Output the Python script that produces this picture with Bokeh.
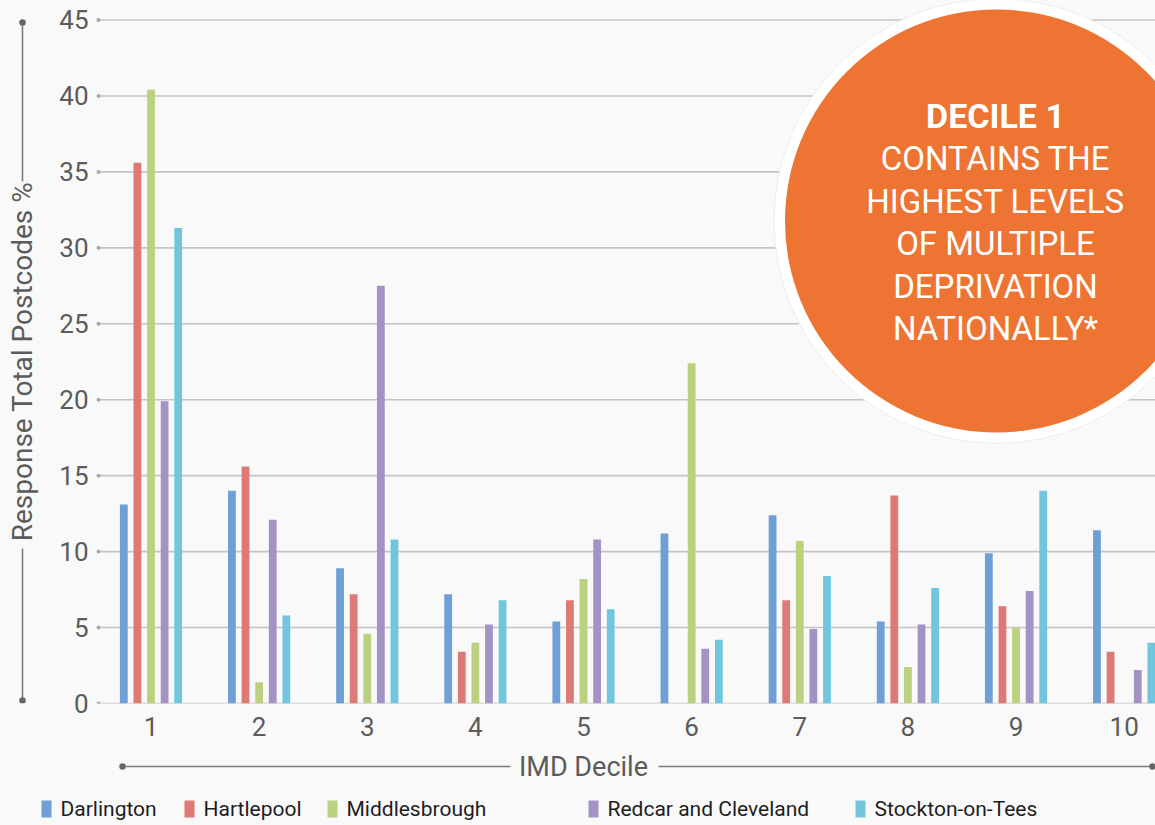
import numpy as np
from bokeh.plotting import figure
from bokeh.layouts import column, row
from bokeh.models import Range1d, FixedTicker, Label
from bokeh.core.properties import value
from bokeh.embed import file_html
from bokeh.resources import INLINE

# Share of responding postcodes (%) in each IMD decile, by local authority
deciles = [1, 2, 3, 4, 5, 6, 7, 8, 9, 10]
darlington = [13.1, 14.0, 8.9, 7.2, 5.4, 11.2, 12.4, 5.4, 9.9, 11.4]
hartlepool = [35.6, 15.6, 7.2, 3.4, 6.8, 0.0, 6.8, 13.7, 6.4, 3.4]
middlesbrough = [40.4, 1.4, 4.6, 4.0, 8.2, 22.4, 10.7, 2.4, 5.0, 0.0]
redcar = [19.9, 12.1, 27.5, 5.2, 10.8, 3.6, 4.9, 5.2, 7.4, 2.2]
stockton = [31.3, 5.8, 10.8, 6.8, 6.2, 4.2, 8.4, 7.6, 14.0, 4.0]

series_names = ["Darlington", "Hartlepool", "Middlesbrough",
                "Redcar and Cleveland", "Stockton-on-Tees"]
series_values = [darlington, hartlepool, middlesbrough, redcar, stockton]
series_colors = ["#6f9fd4", "#dd7a75", "#bbd17f", "#a592c4", "#71c6de"]

y_ticks = [0, 5, 10, 15, 20, 25, 30, 35, 40, 45]

callout_lines = ["CONTAINS THE", "HIGHEST LEVELS", "OF MULTIPLE",
                 "DEPRIVATION", "NATIONALLY*"]

y_title = "Response Total Postcodes %"
x_title = "IMD Decile"

# ---- page geometry (pixels) ----
W, H = 1155, 825
LEFT_W = 40           # strip holding the vertical axis title
TOP_H = 745           # height of the chart row
FRAME_L = 94          # left edge of plotting frame on the page
PX_PER_CAT = 108.13   # horizontal distance between decile groups
CAT1_PX = 150.5       # centre of first decile group
ZERO_PX = 703         # y pixel of value 0
PX_PER_UNIT = 15.189  # pixels per percentage point

X_START = 1 - (CAT1_PX - FRAME_L) / PX_PER_CAT
X_END = X_START + (W - FRAME_L) / PX_PER_CAT
Y_END = ZERO_PX / PX_PER_UNIT


def X(px):
    return X_START + (px - FRAME_L) / PX_PER_CAT


def Y(py):
    return (ZERO_PX - py) / PX_PER_UNIT


BG = "#f9f9f9"
AXIS_GREY = "#5b5b5b"
RULE_GREY = "#7c7c7c"
DOT_GREY = "#666666"
FONT = "Roboto"


def blank(width, height, xr, yr, **borders):
    f = figure(width=width, height=height, x_range=xr, y_range=yr,
               output_backend="svg", toolbar_location=None,
               x_axis_type=None, y_axis_type=None,
               min_border=0, background_fill_color=BG,
               border_fill_color=BG, outline_line_color=None, **borders)
    f.grid.visible = False
    return f


# ---------------- main chart ----------------
p = figure(width=W - LEFT_W, height=TOP_H,
           x_range=Range1d(X_START, X_END), y_range=Range1d(0, Y_END),
           output_backend="svg", toolbar_location=None,
           min_border_left=FRAME_L - LEFT_W, min_border_right=0,
           min_border_top=0, min_border_bottom=TOP_H - ZERO_PX,
           background_fill_color=BG, border_fill_color=BG,
           outline_line_color=None)
p.grid.visible = False

# horizontal rules with a small dot at their left end
x_rule0 = X(98)
p.segment(x0=[x_rule0] * len(y_ticks), y0=y_ticks,
          x1=[X_END] * len(y_ticks), y1=y_ticks,
          line_color="#c4c4c4", line_width=1.6)
p.scatter(x=[x_rule0] * len(y_ticks), y=y_ticks, size=4,
          fill_color="#a8a8a8", line_color=None)

# callout disc
cx, cy = X(996), Y(220.5)
p.scatter(x=[cx], y=[cy], size=445, fill_color="white",
          line_color="#ececec", line_width=1)
p.scatter(x=[cx], y=[cy], size=423, fill_color="#ee7433", line_color=None)

# grouped bars
step = 13.6 / PX_PER_CAT
bar_w = 7.8 / PX_PER_CAT
for i, (vals, col) in enumerate(zip(series_values, series_colors)):
    xs = np.array(deciles) + (i - 2) * step
    p.vbar(x=xs, top=vals, width=bar_w, bottom=0,
           fill_color=col, line_color=None)

# axes
p.yaxis.ticker = FixedTicker(ticks=y_ticks)
p.xaxis.ticker = FixedTicker(ticks=deciles)
for ax in (p.xaxis, p.yaxis):
    ax.axis_line_color = None
    ax.major_tick_line_color = None
    ax.minor_tick_line_color = None
    ax.major_label_text_font = FONT
    ax.major_label_text_font_size = "26px"
    ax.major_label_text_color = AXIS_GREY
p.yaxis.major_label_standoff = 0
p.xaxis.major_label_standoff = 7

# callout text
p.add_layout(Label(x=X(995), y=Y(115), text="DECILE 1",
                   text_font=FONT, text_font_style="bold",
                   text_font_size="34px", text_color="white",
                   text_align="center", text_baseline="middle"))
for k, line in enumerate(callout_lines):
    p.add_layout(Label(x=X(995), y=Y(158 + 42.6 * k), text=line,
                       text_font=FONT, text_font_size="33px",
                       text_color="white",
                       text_align="center", text_baseline="middle"))

# ---------------- vertical axis title strip ----------------
# pixel coordinates, y measured downwards from the top of the page;
# its frame spans the same height as the chart frame
left = blank(LEFT_W, TOP_H, Range1d(0, LEFT_W), Range1d(ZERO_PX, 0),
             min_border_bottom=TOP_H - ZERO_PX)
left.segment(x0=[22, 22], y0=[22, 548], x1=[22, 22], y1=[181, 700],
             line_color=RULE_GREY, line_width=1.6)
left.scatter(x=[22, 22], y=[22, 700], size=6.5,
             fill_color=DOT_GREY, line_color=None)
left.text(x=[22], y=[361], text=[y_title], angle=np.pi / 2,
          text_font=value(FONT), text_font_size="28px",
          text_color=AXIS_GREY, text_align="center",
          text_baseline="middle")

# ---------------- horizontal axis title and legend ----------------
bottom = blank(W, H - TOP_H, Range1d(0, W), Range1d(H, TOP_H))
bottom.segment(x0=[122, 658], y0=[766, 766], x1=[510, 1152], y1=[766, 766],
               line_color=RULE_GREY, line_width=1.6)
bottom.scatter(x=[122, 1152], y=[766, 766], size=6.5,
               fill_color=DOT_GREY, line_color=None)
bottom.text(x=[583], y=[766], text=[x_title],
            text_font=value(FONT), text_font_size="27px",
            text_color=AXIS_GREY, text_align="center",
            text_baseline="middle")

legend_square_px = [41, 184, 327, 588, 855]
sq = np.array(legend_square_px, dtype=float)
bottom.quad(left=sq, right=sq + 10, top=[800] * 5, bottom=[817] * 5,
            fill_color=series_colors, line_color=None)
bottom.text(x=sq + 19, y=[808.5] * 5, text=series_names,
            text_font=value(FONT), text_font_size="21px",
            text_color="#1e1e1e", text_align="left",
            text_baseline="middle")

layout = column(row(left, p, spacing=0, styles={"background-color": BG}),
                bottom, spacing=0, styles={"background-color": BG})

open("out.html", "w").write(file_html(layout, INLINE))
